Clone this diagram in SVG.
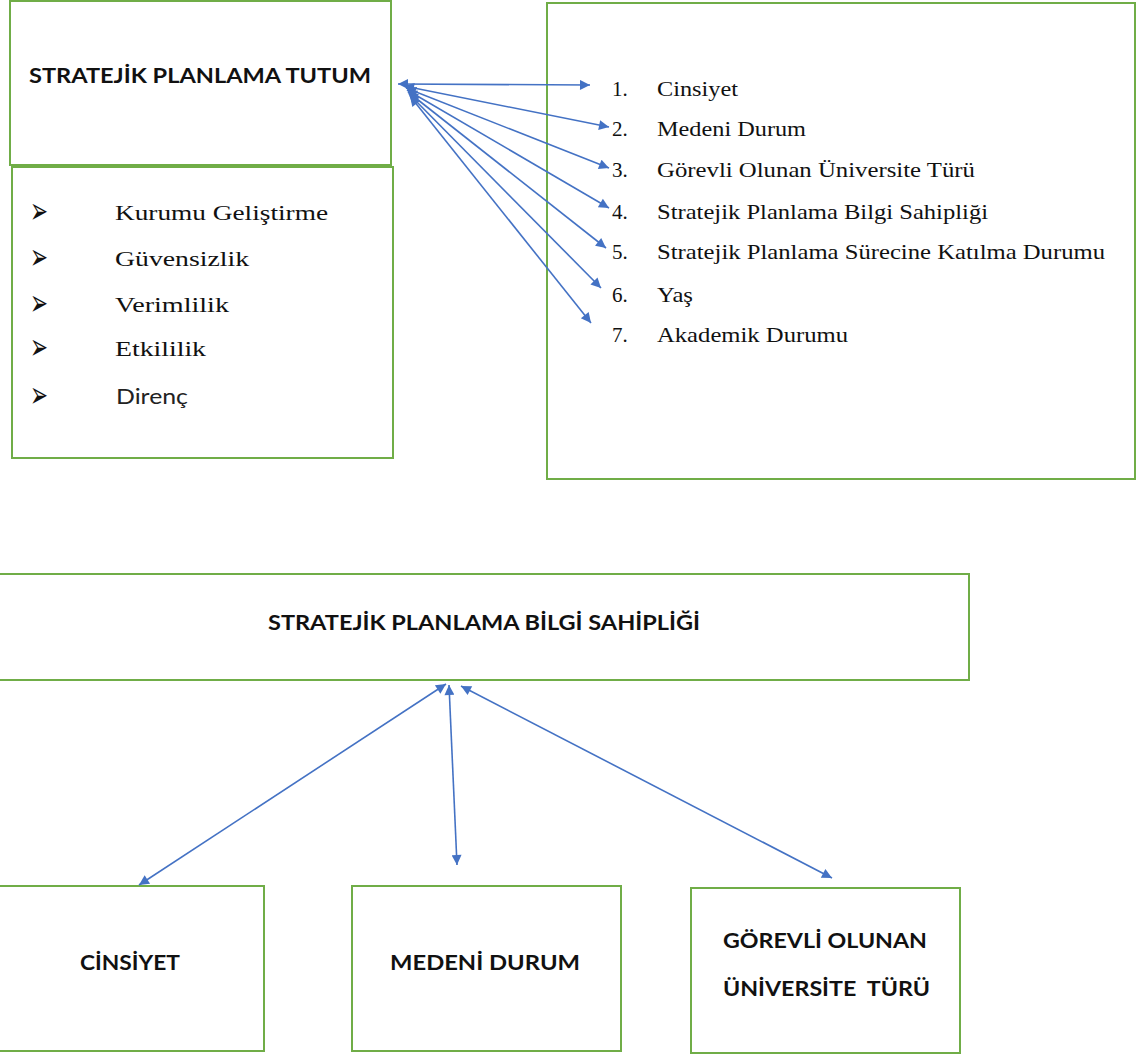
<svg xmlns="http://www.w3.org/2000/svg" width="1137" height="1057" viewBox="0 0 1137 1057">
<style>
.box{fill:#fff;stroke:#70AD47;stroke-width:2}
.hd{font-family:Lato,"Liberation Sans",sans-serif;font-weight:bold;fill:#111;font-size:21px}
.sr{font-family:"Liberation Serif","Times New Roman",serif;fill:#111;font-size:21px}
.bl{font-family:"DejaVu Sans",sans-serif;fill:#111;font-size:36px}
.sn{font-family:Lato,"Liberation Sans",sans-serif;fill:#222;font-size:21px}
.cn{stroke:#4472C4;stroke-width:1.6;fill:none}
</style>
<defs>
<marker id="ah" viewBox="0 0 10 10" refX="10" refY="5" markerWidth="13" markerHeight="10" markerUnits="userSpaceOnUse" orient="auto-start-reverse">
<path d="M0,0 L10,5 L0,10 z" fill="#4472C4"/>
</marker>
</defs>
<rect width="1137" height="1057" fill="#fff"/>

<g id="node-tutum">
<rect class="box" x="10" y="1" width="381" height="164"/>
<text class="hd" x="29" y="83" textLength="342" lengthAdjust="spacingAndGlyphs">STRATEJİK PLANLAMA TUTUM</text>
</g>

<g id="node-boyutlar">
<rect class="box" x="12" y="167" width="381" height="291"/>
<text class="bl" x="30" y="223" textLength="18" lengthAdjust="spacingAndGlyphs">➢</text>
<text class="sr" x="115" y="220" textLength="213" lengthAdjust="spacingAndGlyphs">Kurumu Geliştirme</text>
<text class="bl" x="30" y="269" textLength="18" lengthAdjust="spacingAndGlyphs">➢</text>
<text class="sr" x="115" y="266" textLength="134" lengthAdjust="spacingAndGlyphs">Güvensizlik</text>
<text class="bl" x="30" y="315" textLength="18" lengthAdjust="spacingAndGlyphs">➢</text>
<text class="sr" x="115" y="312" textLength="114" lengthAdjust="spacingAndGlyphs">Verimlilik</text>
<text class="bl" x="30" y="359" textLength="18" lengthAdjust="spacingAndGlyphs">➢</text>
<text class="sr" x="115" y="356" textLength="91" lengthAdjust="spacingAndGlyphs">Etkililik</text>
<text class="bl" x="30" y="407" textLength="18" lengthAdjust="spacingAndGlyphs">➢</text>
<text class="sn" x="116" y="404" textLength="72" lengthAdjust="spacingAndGlyphs">Direnç</text>
</g>

<g id="node-degiskenler">
<rect class="box" x="547" y="3" width="588" height="476"/>
<text class="sr" x="612" y="96">1.</text>
<text class="sr" x="657" y="96" textLength="81" lengthAdjust="spacingAndGlyphs">Cinsiyet</text>
<text class="sr" x="612" y="136">2.</text>
<text class="sr" x="657" y="136" textLength="149" lengthAdjust="spacingAndGlyphs">Medeni Durum</text>
<text class="sr" x="612" y="177">3.</text>
<text class="sr" x="657" y="177" textLength="318" lengthAdjust="spacingAndGlyphs">Görevli Olunan Üniversite Türü</text>
<text class="sr" x="612" y="219">4.</text>
<text class="sr" x="657" y="219" textLength="331" lengthAdjust="spacingAndGlyphs">Stratejik Planlama Bilgi Sahipliği</text>
<text class="sr" x="612" y="259">5.</text>
<text class="sr" x="657" y="259" textLength="448" lengthAdjust="spacingAndGlyphs">Stratejik Planlama Sürecine Katılma Durumu</text>
<text class="sr" x="612" y="302">6.</text>
<text class="sr" x="657" y="302" textLength="36" lengthAdjust="spacingAndGlyphs">Yaş</text>
<text class="sr" x="612" y="342">7.</text>
<text class="sr" x="657" y="342" textLength="191" lengthAdjust="spacingAndGlyphs">Akademik Durumu</text>
</g>

<g id="node-bilgi">
<rect class="box" x="-2" y="574" width="971" height="106"/>
<text class="hd" x="268" y="630" textLength="432" lengthAdjust="spacingAndGlyphs">STRATEJİK PLANLAMA BİLGİ SAHİPLİĞİ</text>
</g>

<g id="node-cinsiyet">
<rect class="box" x="-2" y="886" width="266" height="165"/>
<text class="hd" x="80" y="970" textLength="100" lengthAdjust="spacingAndGlyphs">CİNSİYET</text>
</g>

<g id="node-medeni">
<rect class="box" x="352" y="886" width="269" height="165"/>
<text class="hd" x="390" y="970" textLength="190" lengthAdjust="spacingAndGlyphs">MEDENİ DURUM</text>
</g>

<g id="node-gorevli">
<rect class="box" x="691" y="888" width="269" height="165"/>
<text class="hd" x="723" y="948" textLength="204" lengthAdjust="spacingAndGlyphs">GÖREVLİ OLUNAN</text>
<text class="hd" x="723" y="996" textLength="207" lengthAdjust="spacingAndGlyphs" xml:space="preserve">ÜNİVERSİTE  TÜRÜ</text>
</g>

<g id="connectors">
<line class="cn" x1="398" y1="84" x2="590" y2="85" marker-start="url(#ah)" marker-end="url(#ah)"/>
<line class="cn" x1="404" y1="86" x2="609" y2="127" marker-start="url(#ah)" marker-end="url(#ah)"/>
<line class="cn" x1="406" y1="88" x2="609" y2="168" marker-start="url(#ah)" marker-end="url(#ah)"/>
<line class="cn" x1="407" y1="90" x2="609" y2="208" marker-start="url(#ah)" marker-end="url(#ah)"/>
<line class="cn" x1="408" y1="92" x2="606" y2="248" marker-start="url(#ah)" marker-end="url(#ah)"/>
<line class="cn" x1="409" y1="94" x2="601" y2="288" marker-start="url(#ah)" marker-end="url(#ah)"/>
<line class="cn" x1="410" y1="96" x2="591" y2="323" marker-start="url(#ah)" marker-end="url(#ah)"/>
<line class="cn" x1="446" y1="684" x2="139" y2="885" marker-start="url(#ah)" marker-end="url(#ah)"/>
<line class="cn" x1="449" y1="685" x2="457" y2="865" marker-start="url(#ah)" marker-end="url(#ah)"/>
<line class="cn" x1="461" y1="686" x2="832" y2="878" marker-start="url(#ah)" marker-end="url(#ah)"/>
</g>
</svg>
